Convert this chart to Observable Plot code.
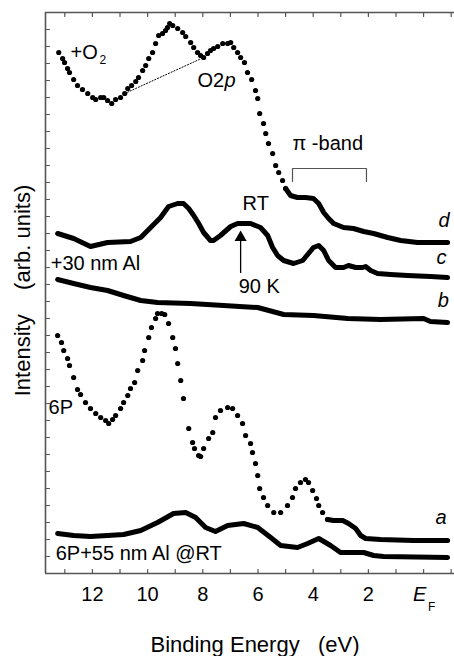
<!DOCTYPE html>
<html>
<head>
<meta charset="utf-8">
<script src="https://cdn.jsdelivr.net/npm/d3@7"></script>
<script src="https://cdn.jsdelivr.net/npm/@observablehq/plot@0.6"></script>
<style>
  html, body { margin: 0; padding: 0; background: #fff; }
  #chart { width: 454px; height: 656px; }
</style>
</head>
<body>
<div id="chart"></div>
<script>
// ---------- DATA (binding energy in eV, intensity in arb. units) ----------
// d : 6P + O2 (sparse dotted part, then dense tail)
const seriesO2Sparse = [[13.22,521],[13.08,515],[13.01,511],[12.90,505],[12.83,501],[12.68,494],[12.54,488],[12.36,484],[12.17,480],[11.99,476],[11.88,474],[11.70,476],[11.59,476],[11.45,473],[11.30,470],[11.16,474],[10.98,476],[10.83,480],[10.72,485],[10.58,488],[10.43,492],[10.33,496],[10.18,503],[10.07,508],[9.96,515],[9.82,521],[9.71,530],[9.60,538],[9.46,540],[9.35,543],[9.28,546],[9.20,550],[9.09,548],[8.91,545],[8.73,541],[8.62,537],[8.44,531],[8.33,526],[8.19,521],[8.08,518],[7.97,516],[7.83,520],[7.72,523],[7.61,525],[7.46,527],[7.28,530],[7.10,530],[6.99,531],[6.88,526],[6.74,521],[6.63,516],[6.49,511],[6.38,501],[6.23,494],[6.09,483],[6.01,475],[5.94,460],[5.80,450],[5.72,440],[5.62,430],[5.47,420],[5.36,408],[5.25,401],[5.11,393],[5.00,385]];
const seriesO2Dense = [[5.00,385],[4.82,378],[4.57,376],[4.28,376],[3.99,375],[3.80,370],[3.62,361],[3.44,355],[3.26,350],[2.90,346],[2.54,345],[2.17,342],[1.81,340],[1.30,336],[0.83,333],[0.22,331],[-0.87,331]];
// c : +30 nm Al, RT
const seriesC = [[13.26,340],[12.68,335],[12.07,327],[11.45,331],[10.62,332],[10.25,336],[9.89,346],[9.53,356],[9.24,367],[8.91,370],[8.70,370],[8.51,365],[8.33,358],[8.15,350],[7.97,341],[7.72,333],[7.61,333],[7.36,338],[6.99,347],[6.74,350],[6.27,350],[5.91,346],[5.65,338],[5.47,326],[5.29,318],[5.07,313],[4.71,310],[4.38,313],[4.17,320],[3.99,326],[3.80,328],[3.62,323],[3.44,313],[3.19,306],[2.90,306],[2.72,308],[2.46,306],[2.21,306],[2.10,307],[1.92,303],[1.67,300],[1.20,299],[0.58,298],[-0.25,297],[-0.87,296]];
// b : +30 nm Al, 90 K
const seriesB = [[13.26,294],[12.68,290],[12.07,286],[11.45,283],[10.87,278],[10.25,273],[9.64,271],[8.44,270],[7.25,268],[6.01,266],[5.07,259],[3.99,258],[2.75,255],[1.56,254],[0.00,255],[-0.25,252],[-0.87,251]];
// a : pristine 6P (sparse dotted part, then dense tail)
const series6PSparse = [[13.26,238],[13.12,231],[13.04,223],[12.90,215],[12.83,208],[12.68,196],[12.54,184],[12.43,179],[12.25,171],[12.07,165],[11.88,160],[11.70,156],[11.52,153],[11.41,150],[11.27,154],[11.16,158],[10.98,165],[10.87,171],[10.72,178],[10.62,185],[10.47,191],[10.36,203],[10.18,213],[10.11,223],[9.96,236],[9.86,246],[9.71,255],[9.64,260],[9.49,260],[9.38,259],[9.24,250],[9.09,236],[8.99,225],[8.91,210],[8.80,193],[8.70,175],[8.51,145],[8.37,131],[8.30,125],[8.15,118],[8.08,117],[7.97,125],[7.79,135],[7.64,141],[7.54,156],[7.36,163],[7.10,166],[6.92,165],[6.74,158],[6.56,150],[6.45,138],[6.27,130],[6.20,121],[6.09,110],[6.01,98],[5.94,85],[5.80,76],[5.65,68],[5.43,61],[5.18,61],[4.93,68],[4.75,76],[4.64,85],[4.46,91],[4.28,94],[4.17,91],[4.02,83],[3.88,75],[3.80,68],[3.66,61],[3.48,54]];
const series6PDense = [[3.48,54],[3.26,53],[2.93,53],[2.72,50],[2.46,45],[2.28,38],[2.10,35],[1.56,34],[0.36,33],[-0.87,33]];
// 6P + 55 nm Al @ RT
const series6PAl55 = [[13.26,40],[12.68,38],[12.07,37],[11.45,38],[10.87,39],[10.25,43],[9.64,51],[9.06,60],[8.62,61],[8.26,56],[7.90,46],[7.54,42],[7.10,48],[6.52,50],[6.01,46],[5.54,36],[5.18,28],[4.57,26],[4.20,30],[3.80,35],[3.37,28],[3.01,21],[2.17,21],[1.81,18],[1.45,17],[-0.87,16]];

// O2 2p background (dotted straight line) and pi-band bracket
const o2Background = [[10.83,480],[7.97,516]];
const piBandBracket = [[4.75,392],[4.75,405],[2.07,405],[2.07,392]];

// tick values
const energyTicks = [13,12,11,10,9,8,7,6,5,4,3,2,1,0,-1];
const energyTickLabels = [12,10,8,6,4,2];
const intensityTicks = d3.range(17, 561, 17);
const energyDomain = [13.7, -1.12];
const intensityDomain = [0, 561];

// annotation labels [text, energy, intensity]
const uprightLabels = [["+O", 12.79, 521], ["O2", 8.19, 493], ["RT", 6.56, 370], ["90 K", 6.70, 287], ["\u03c0 -band", 4.75, 430], ["+30 nm Al", 13.51, 310], ["6P", 13.59, 166], ["6P+55 nm Al @RT", 13.33, 20]];
const italicLabels = [["p", 7.21, 493], ["d", -0.54, 353], ["c", -0.47, 316], ["b", -0.51, 273], ["a", -0.43, 56]];
const arrow90K = [{e: 6.63, from: 300, to: 333, tip: 336}];
const yTitle = [{text: "Intensity\u00a0\u00a0\u00a0\u00a0(arb. units)", e: 14.53, i: 283}];

// ---------- CHART ----------
const FONT = "'Liberation Sans', Arial, Helvetica, sans-serif";
const toRows = arr => arr.map(([e, i]) => ({e, i}));
const AX = "#555";
const tickShape = {draw(context, l) { context.moveTo(0, 0); context.lineTo(0, -l); }};
const lineStyle = {x: "e", y: "i", stroke: "#000", strokeWidth: 5, strokeLinecap: "round", strokeLinejoin: "round"};

const chart = Plot.plot({
  width: 454,
  height: 656,
  marginLeft: 45,
  marginRight: 0,
  marginTop: 12,
  marginBottom: 83,
  style: {fontFamily: FONT, fontSize: "20px", background: "#fff", color: "#000", overflow: "visible"},
  x: {domain: energyDomain, axis: null},
  y: {domain: intensityDomain, axis: null},
  marks: [
    // axis lines
    Plot.ruleY([intensityDomain[0]], {stroke: AX, strokeWidth: 1.4}),
    Plot.ruleY([intensityDomain[1]], {stroke: AX, strokeWidth: 1.4}),
    Plot.ruleX([energyDomain[0]], {stroke: AX, strokeWidth: 1.6}),
    // inward ticks
    Plot.vector(energyTicks, {x: d => d, frameAnchor: "bottom", rotate: 0, length: 4, anchor: "start", shape: tickShape, stroke: AX, strokeWidth: 1.2}),
    Plot.vector(energyTicks, {x: d => d, frameAnchor: "top", rotate: 180, length: 4, anchor: "start", shape: tickShape, stroke: AX, strokeWidth: 1.2}),
    Plot.vector(intensityTicks, {y: d => d, frameAnchor: "left", rotate: 90, length: 4, anchor: "start", shape: tickShape, stroke: AX, strokeWidth: 1.2}),
    // tick labels and axis titles
    Plot.text(energyTickLabels, {x: d => d, frameAnchor: "bottom", lineAnchor: "middle", dy: 21, text: d => String(d), fontSize: 20}),
    Plot.text(["E"], {x: () => 0, frameAnchor: "bottom", lineAnchor: "middle", dy: 21, dx: -4, fontStyle: "italic", fontSize: 20}),
    Plot.text(["F"], {x: () => 0, frameAnchor: "bottom", lineAnchor: "middle", dy: 34, dx: 8, fontSize: 12}),
    Plot.text(["Binding Energy\u00a0\u00a0\u00a0(eV)"], {frameAnchor: "bottom", lineAnchor: "middle", textAnchor: "middle", dy: 71, dx: 5, fontSize: 22}),
    Plot.text(yTitle, {x: "e", y: "i", text: "text", lineAnchor: "middle", textAnchor: "middle", rotate: -90, fontSize: 22}),

    // spectra
    Plot.line(toRows(seriesO2Dense), lineStyle),
    Plot.dot(toRows(seriesO2Sparse), {x: "e", y: "i", r: 2.6, fill: "#000"}),
    Plot.line(toRows(seriesC), lineStyle),
    Plot.line(toRows(seriesB), lineStyle),
    Plot.line(toRows(series6PDense), lineStyle),
    Plot.dot(toRows(series6PSparse), {x: "e", y: "i", r: 2.6, fill: "#000"}),
    Plot.line(toRows(series6PAl55), lineStyle),

    // annotations
    Plot.line(toRows(o2Background), {x: "e", y: "i", stroke: "#000", strokeWidth: 1, strokeDasharray: "1.2,1.8"}),
    Plot.line(toRows(piBandBracket), {x: "e", y: "i", stroke: AX, strokeWidth: 1.2}),
    Plot.ruleX(arrow90K, {x: "e", y1: "from", y2: "to", stroke: "#000", strokeWidth: 1.3}),
    Plot.dot(arrow90K, {x: "e", y: "tip", symbol: "triangle", r: 4.5, fill: "#000", stroke: "none"}),
    Plot.text(uprightLabels, {x: d => d[1], y: d => d[2], text: d => d[0], textAnchor: "start", fontSize: 20}),
    Plot.text(italicLabels, {x: d => d[1], y: d => d[2], text: d => d[0], textAnchor: "start", fontStyle: "italic", fontSize: 20}),
    Plot.text(["2"], {x: () => 11.74, y: () => 513, textAnchor: "start", fontSize: 12})
  ]
});
document.getElementById("chart").appendChild(chart);
</script>
</body>
</html>
